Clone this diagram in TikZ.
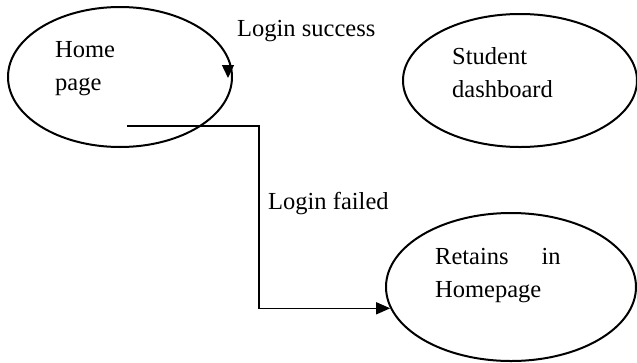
\documentclass[tikz,border=0pt]{standalone}
\usepackage{fontspec}
\setmainfont{Liberation Serif}
\usetikzlibrary{arrows.meta,shapes.geometric}
\begin{document}
\begin{tikzpicture}[x=1pt,y=-1pt,
  state/.style={draw,ellipse,line width=2pt,inner sep=0pt},
  lbl/.style={font=\fontsize{24.5}{33}\selectfont,inner sep=0pt,anchor=base west,align=left},
  conn/.style={draw,line width=1.4pt,-{Triangle[length=14pt,width=12pt]}}]
\useasboundingbox (0,0) rectangle (637,362);
\node[state,minimum width=224pt,minimum height=140pt] (home) at (120,77) {};
\node[state,minimum width=234pt,minimum height=133pt] (student) at (520,80.5) {};
\node[state,minimum width=250pt,minimum height=148pt] (retains) at (511,287) {};
\node[lbl] (thome) at (55,90) {Home\\page};
\node[lbl] (tstudent) at (452,97) {Student\\dashboard};
\node[lbl] (tretains) at (435,297) {Retains\hspace{33pt}in\\Homepage};
\node[lbl] (lsuccess) at (237,36) {Login success};
\node[lbl] (lfailed) at (268,209) {Login failed};
\coordinate (sstart) at (228,65);
\coordinate (send) at (228,78);
\draw[line width=1.4pt,-{Triangle[length=13pt,width=12pt]}] (sstart) -- (send);
\coordinate (fstart) at (127,126);
\coordinate (fturn) at (259,126);
\draw[conn] (fstart) -- (fturn) |- (retains.190);
\end{tikzpicture}
\end{document}
